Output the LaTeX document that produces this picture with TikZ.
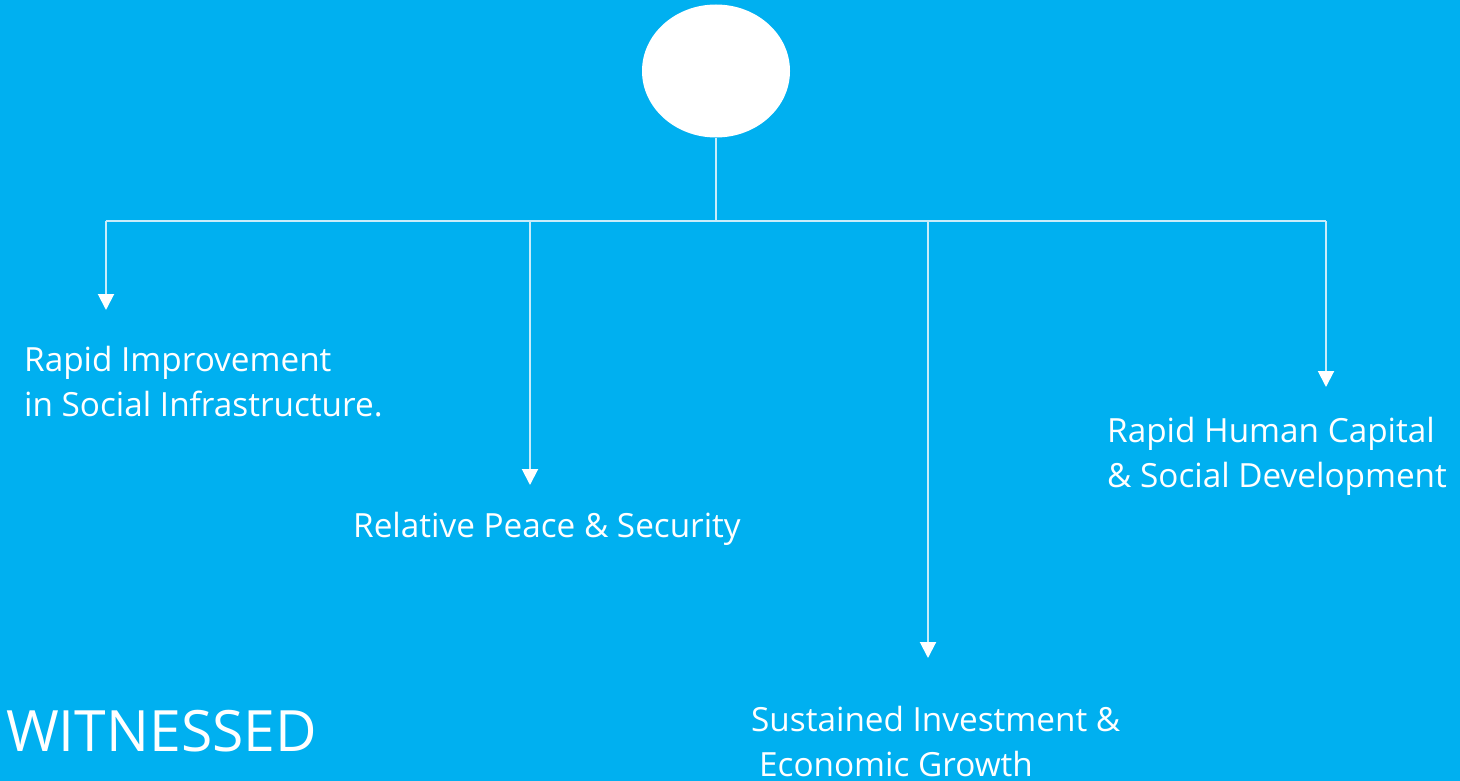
\documentclass[tikz,border=0pt]{standalone}
\usepackage{fontspec}
\setmainfont{Open Sans}
\usetikzlibrary{arrows.meta}
\usetikzlibrary{shapes.geometric}
\definecolor{skyblue}{RGB}{0,176,240}
\definecolor{linewhite}{RGB}{200,236,250}

\begin{document}
\begin{tikzpicture}[x=1pt,y=-1pt,
	link/.style={draw=linewhite,line width=2pt},
	branch/.style={link,-{Triangle[width=16pt,length=16pt,fill=white,color=white]}},
	label/.style={text=white,font=\fontsize{33.3}{45}\selectfont,align=left,inner sep=0pt,anchor=west}]
	\fill[skyblue] (0,0) rectangle (1460,781);
	\useasboundingbox (0,0) rectangle (1460,781);

	\node[ellipse,fill=white,minimum width=148pt,minimum height=133pt,inner sep=0pt] (top) at (716,71) {};

	\coordinate (hub) at (716,221);
	\coordinate (left) at (106,221);
	\coordinate (right) at (1326,221);
	\coordinate (midleft) at (530,221);
	\coordinate (midright) at (928,221);

	\coordinate (infra-tip) at (106,310);
	\coordinate (peace-tip) at (530,485);
	\coordinate (growth-tip) at (928,658);
	\coordinate (human-tip) at (1326,387);

	\node[label] (infra) at (24,382) {Rapid Improvement\\in Social Infrastructure.};
	\node[label] (peace) at (353,529) {Relative Peace \& Security};
	\node[label] (human) at (1107,456) {Rapid Human Capital\\\& Social Development};
	\node[label] (growth) at (751,742) {Sustained Investment \&\\\hspace{8pt}Economic Growth};
	\node[label,font=\fontsize{57}{70}\selectfont] (witness) at (6,731) {WITNESSED};

	\draw[link] (top) -- (hub);
	\draw[link] (left) -- (right);

	\draw[branch] (left) -- (infra-tip);
	\draw[branch] (midleft) -- (peace-tip);
	\draw[branch] (midright) -- (growth-tip);
	\draw[branch] (right) -- (human-tip);
\end{tikzpicture}
\end{document}
